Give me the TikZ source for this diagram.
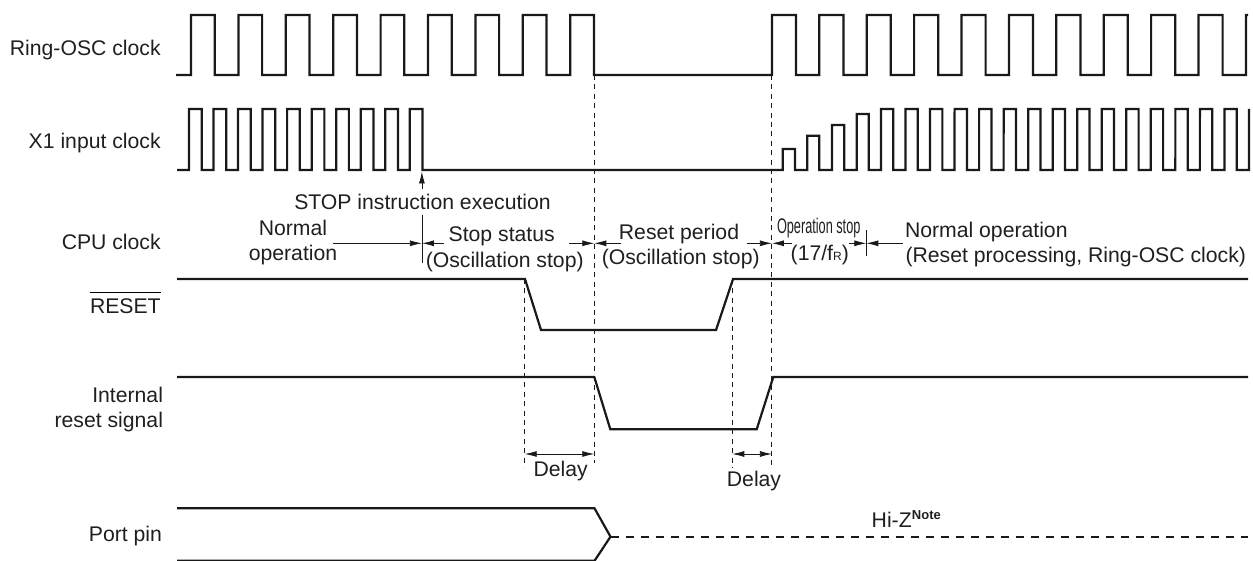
\documentclass[tikz,border=0pt]{standalone}
\usepackage{fontspec}
\setmainfont{Liberation Sans}
\usetikzlibrary{arrows.meta}
\tikzset{
  wave/.style={line width=2.2pt,black!90,line join=miter},
  guide/.style={line width=0.95pt,dash pattern=on 5pt off 4.4pt,black!90},
  span/.style={line width=0.8pt,black!90,{Latex[length=12pt,width=6pt]}-{Latex[length=12pt,width=6pt]}},
  spanone/.style={line width=0.8pt,black!90,-{Latex[length=12pt,width=6pt]}},
  tick/.style={line width=0.8pt,black!90},
  lbl/.style={inner sep=0pt,outer sep=0pt,text=black!88,font=\fontsize{21.2}{24}\selectfont},
  sig/.style={lbl,anchor=base east},
  txt/.style={lbl,anchor=base},
  txtl/.style={lbl,anchor=base west}
}
\begin{document}
\begin{tikzpicture}[x=1pt,y=-1pt]
\useasboundingbox (0,0) rectangle (1253,561);
% signal names
\node[sig] (nring) at (160.7,56) {Ring-OSC clock};
\node[sig] (nx) at (160.7,149) {X1 input clock};
\node[sig] (ncpu) at (160.7,250) {CPU clock};
\node[sig] (nreset) at (160.7,314) {RESET};
\draw[line width=0.8pt] (nreset.west |- 0,292.3) -- (nreset.east |- 0,292.3);
\node[sig] (nint) at (163,402) {Internal};
\node[sig] (nintb) at (163,427.7) {reset signal};
\node[sig] (nport) at (162,541) {Port pin};
% key instants
\coordinate (tstop) at (421.9,243.3);
\coordinate (ta) at (524.7,454);
\coordinate (tb) at (594.3,454);
\coordinate (tc) at (732.3,454);
\coordinate (td) at (771.9,454);
% guides
\draw[guide] (594.3,75) -- (594.3,463);
\draw[guide] (771.9,75) -- (771.9,467);
\draw[guide] (524.7,279) -- (524.7,467);
\draw[guide] (732.3,279) -- (732.3,468);
% Ring-OSC clock
\draw[wave] (176,75)
  foreach \k in {0,...,8} { -- ({191+47.4*\k},75) -- ({191+47.4*\k},15) -- ({214.7+47.4*\k},15) -- ({214.7+47.4*\k},75) }
  -- (771.9,75)
  foreach \k in {0,...,9} { -- ({771.9+47.4*\k},15) -- ({796+47.4*\k},15) -- ({796+47.4*\k},75) -- ({819.3+47.4*\k},75) }
  -- (1245.9,15) -- (1248,15);
% X1 input clock
\draw[wave] (177,170)
  foreach \k in {0,...,9} { -- ({189+24.53*\k},170) -- ({189+24.53*\k},109) -- ({201.7+24.53*\k},109) -- ({201.7+24.53*\k},170) }
  -- (782.7,170)
  -- (782.7,149) -- (795,149) -- (795,170) -- (807.3,170)
  -- (807.3,135.7) -- (819.3,135.7) -- (819.3,170) -- (832,170)
  -- (832,125) -- (844.3,125) -- (844.3,170) -- (856.7,170)
  -- (856.7,114) -- (868.7,114) -- (868.7,170) -- (881,170)
  foreach \k in {0,...,14} { -- ({881+24.53*\k},109) -- ({893.3+24.53*\k},109) -- ({893.3+24.53*\k},170) -- ({905.5+24.53*\k},170) }
  -- (1248.9,109);
% STOP arrow
\node[txt] (stopi) at (422.5,210) {STOP instruction execution};
\coordinate (stoptip) at (421.9,171.5);
\coordinate (stoptail) at (421.9,189);
\draw[spanone] (stoptail) -- (stoptip);
\draw[tick] (421.9,215) -- (421.9,263.5);
% RESET
\draw[wave] (177,279) -- (525,279) -- (541,330) -- (716,330) -- (733,279) -- (1248,279);
% Internal reset
\draw[wave] (177,377) -- (594.3,377) -- (610.3,429.3) -- (756.7,429.3) -- (773.3,377) -- (1248,377);
% Port pin
\draw[wave] (177,508.3) -- (594.5,508.3) -- (610.5,536.7) -- (594.5,560.8) -- (177,560.8);
\draw[wave,dash pattern=on 8pt off 7pt] (610.5,536.7) -- (1248,536.7);
\node[lbl,anchor=base west] (hiz) at (871.7,527.7) {Hi-Z};
\node[inner sep=0pt,anchor=base west,text=black!88,font=\fontsize{13}{15}\selectfont\bfseries] (note) at (hiz.base east) [yshift=8.7pt] {Note};
% period texts
\node[txt] (n1) at (293,235.7) {Normal};
\node[txt] (n2) at (293,261) {operation};
\node[txt] (s1) at (501.7,241.7) {Stop status};
\node[txt] (s2) at (504.7,267.7) {(Oscillation stop)};
\node[txt] (r1) at (679,240) {Reset period};
\node[txt] (r2) at (680.7,265) {(Oscillation stop)};
\node[lbl,anchor=base west] (o1) at (777,234) {\scalebox{0.6}[1]{Operation stop}};
\node[txtl] (o2) at (790.7,260.7) {(17/f{\fontsize{12}{14}\selectfont R})};
\node[txtl] (a1) at (905,237.3) {Normal operation};
\node[txtl] (a2) at (905.5,262.3) {(Reset processing, Ring-OSC clock)};
% period arrows
\coordinate (p1) at (333.3,243.3);
\coordinate (p2) at (444,243.3);
\coordinate (p3) at (569.3,243.3);
\coordinate (p4) at (594.3,243.3);
\coordinate (p5) at (620.7,243.3);
\coordinate (p6) at (746.7,243.3);
\coordinate (p7) at (771.9,243.3);
\coordinate (p8) at (792.3,243.3);
\coordinate (p9) at (849.3,243.3);
\coordinate (p10) at (866.3,243.3);
\coordinate (p11) at (902.7,243.3);
\draw[spanone] (p1) -- (tstop);
\draw[spanone] (p2) -- (tstop);
\draw[spanone] (p3) -- (p4);
\draw[spanone] (p5) -- (p4);
\draw[spanone] (p6) -- (p7);
\draw[spanone] (p8) -- (p7);
\draw[spanone] (p9) -- (p10);
\draw[spanone] (p11) -- (p10);
\draw[tick] (866.3,230) -- (866.3,255.7);
% delays
\draw[span] (ta) -- (tb);
\draw[span] (tc) -- (td);
\node[txt] (d1) at (560.7,476.7) {Delay};
\node[txt] (d2) at (754,486.7) {Delay};
\end{tikzpicture}
\end{document}
